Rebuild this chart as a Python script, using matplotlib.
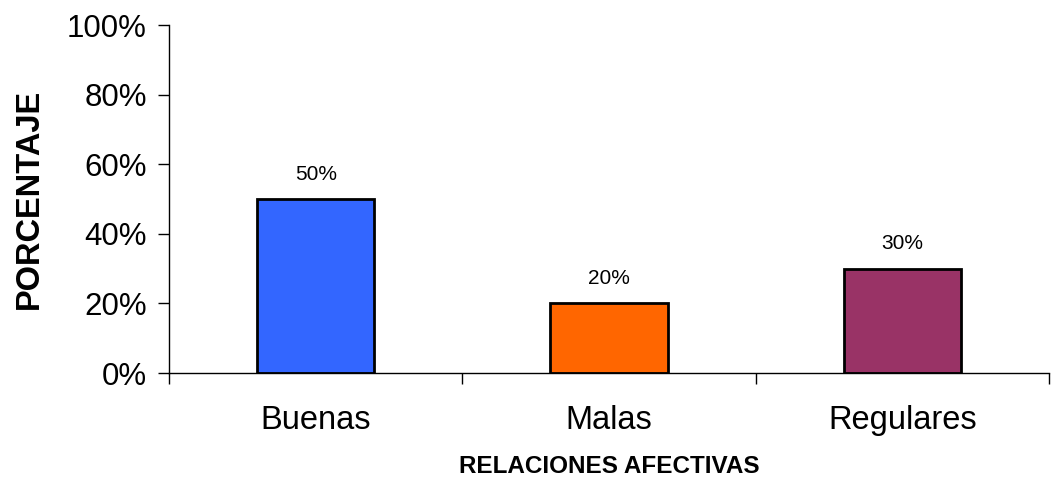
import matplotlib
matplotlib.use("Agg")
import matplotlib.pyplot as plt
from matplotlib.ticker import PercentFormatter

categories = ["Buenas", "Malas", "Regulares"]
values = [50, 20, 30]
colors = ["#3366FF", "#FF6600", "#993366"]
yticks = [0, 20, 40, 60, 80, 100]

plt.rcParams["font.family"] = ["Liberation Sans", "DejaVu Sans"]

fig = plt.figure(figsize=(10.53, 4.82), dpi=100)
ax = fig.add_axes([0.1605, 0.2261, 0.8357, 0.722])

x = range(len(categories))
bars = ax.bar(x, values, width=0.40, color=colors, edgecolor="black", linewidth=2)

for b, v in zip(bars, values):
    ax.annotate(f"{v}%", (b.get_x() + b.get_width() / 2, v),
                xytext=(0, 11), textcoords="offset points",
                ha="center", va="bottom", fontsize=15)

ax.set_xlim(-0.5, len(categories) - 0.5)
ax.set_ylim(0, 100)
ax.set_yticks(yticks)
ax.yaxis.set_major_formatter(PercentFormatter(decimals=0))
ax.set_xticks(list(x))
ax.set_xticklabels(categories)
ax.set_xticks([i - 0.5 for i in range(len(categories) + 1)], minor=True)
ax.tick_params(axis="x", which="major", length=0, labelsize=23.5, pad=23)
ax.tick_params(axis="x", which="minor", length=8, width=1, direction="out")
ax.tick_params(axis="y", length=8, width=1, labelsize=22.5, pad=8)

for s in ["top", "right"]:
    ax.spines[s].set_visible(False)
ax.spines["left"].set_linewidth(1)
ax.spines["bottom"].set_linewidth(1)

ax.set_ylabel("PORCENTAJE", fontsize=23.5, fontweight="bold", labelpad=16)
ax.set_xlabel("RELACIONES AFECTIVAS", fontsize=17.5, fontweight="bold", labelpad=14)

fig.savefig("out.png", dpi=100)
